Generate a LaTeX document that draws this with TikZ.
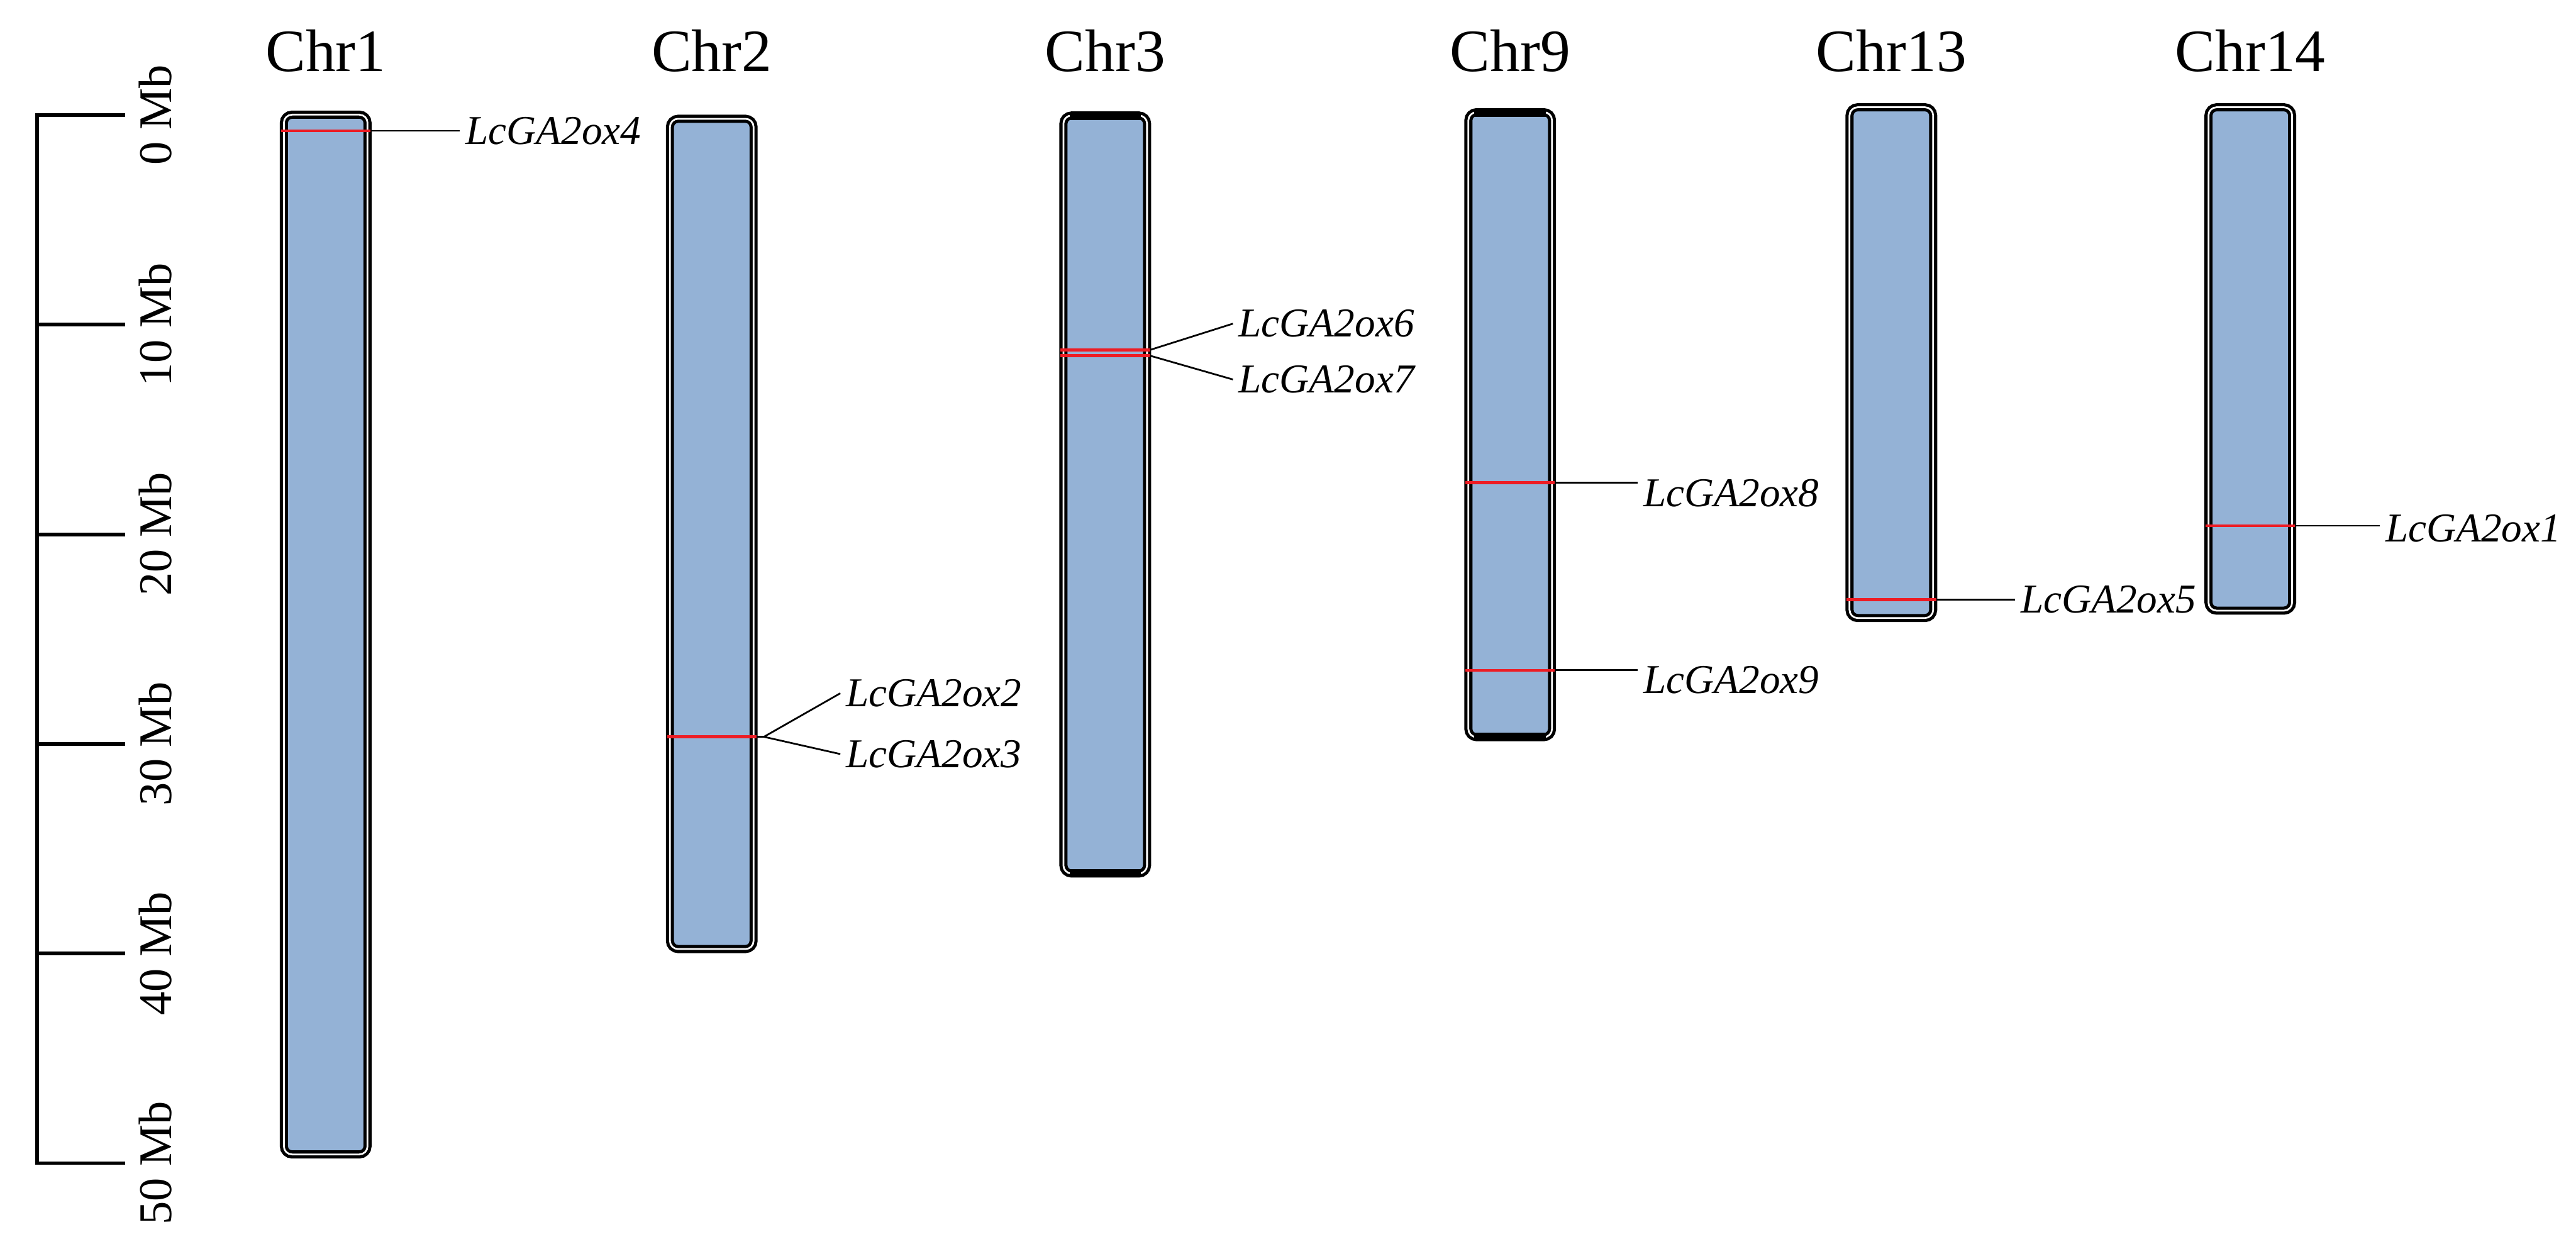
\documentclass[tikz,border=0pt]{standalone}
\usepackage{fontspec}
\setmainfont{Liberation Serif}
\usepackage{xcolor}
\definecolor{chrblue}{rgb}{0.58, 0.70, 0.84}
\definecolor{markred}{rgb}{0.93, 0.11, 0.14}
\usepackage{tikz}

\begin{document}
\begin{tikzpicture}[x=0.01cm, y=-0.01cm,
  chrom/.style={draw=black, line width=0.55pt, double=white, double distance=0.3pt, fill=chrblue, rounded corners=1.4pt},
  chrend/.style={draw=black, line width=1.4pt},
  chrname/.style={anchor=base, inner sep=0pt, font=\fontsize{10.4}{12}\selectfont},
  gene/.style={anchor=west, inner sep=0pt, inner xsep=0.8pt, font=\fontsize{7.1}{8}\selectfont\itshape},
  genemark/.style={draw=markred, line width=0.5pt},
  genelink/.style={draw=black, line width=0.3pt},
  ruler/.style={draw=black, line width=0.65pt},
  mblabel/.style={rotate=90, anchor=north, inner sep=0pt, font=\fontsize{8.1}{9}\selectfont}]

  \useasboundingbox (0,0) rectangle (1568,763);

  % Scale bar
  \draw[ruler] (76,70) -- (22.7,70) -- (22.7,708) -- (76,708);
  \foreach \i in {1,...,4}
    \draw[ruler] (22.7,70+127.6*\i) -- (76,70+127.6*\i);
  \foreach \i in {0,...,5}{
    \pgfmathtruncatemacro{\mb}{10*\i}
    \node[mblabel] (mb\i) at (84,70+127.6*\i) {\mb\ Mb};
  }

  % Chromosomes
  \foreach \n/\x/\ya/\yb in {1/170.5/67.5/705, 2/405.5/70/580, 3/645/68/534,
      9/891.5/66/451, 13/1123.5/63/378.5, 14/1342/63/374}{
    \draw[chrom] (\x+2.3,\ya+2.3) rectangle (\x+53.2,\yb-2.3);
    \node[chrname] (chr\n) at (\x+27.75,43.5) {Chr\n};
  }
  % heavy ends on Chr3 and Chr9
  \foreach \x/\ya/\yb in {645/68/534, 891.5/66/451}{
    \draw[chrend] (\x+6,\ya+2.6) -- (\x+49.5,\ya+2.6);
    \draw[chrend] (\x+6,\yb-2.6) -- (\x+49.5,\yb-2.6);
  }

  % Chr1
  \draw[genemark] (171,79.6) -- (225.5,79.6) coordinate (m4);
  \node[gene] (ox4) at (280,79.7) {LcGA2ox4};
  \draw[genelink] (m4) -- (m4 -| ox4.west);

  % Chr2
  \draw[genemark] (406,448.5) -- (460.5,448.5) coordinate (m23);
  \coordinate (f23) at (465,448.5);
  \node[gene] (ox2) at (511.5,422) {LcGA2ox2};
  \node[gene] (ox3) at (511.5,459) {LcGA2ox3};
  \draw[genelink] (m23) -- (f23) -- (ox2.west);
  \draw[genelink] (f23) -- (ox3.west);

  % Chr3
  \draw[genemark] (645.5,213) -- (700,213) coordinate (m6);
  \draw[genemark] (645.5,216.5) -- (700,216.5) coordinate (m7);
  \node[gene] (ox6) at (750.5,197) {LcGA2ox6};
  \node[gene] (ox7) at (750.5,231) {LcGA2ox7};
  \draw[genelink] (m6) -- (ox6.west);
  \draw[genelink] (m7) -- (ox7.west);

  % Chr9
  \draw[genemark] (892,293.7) -- (946.5,293.7) coordinate (m8);
  \draw[genemark] (892,408) -- (946.5,408) coordinate (m9);
  \node[gene] (ox8) at (997,300.3) {LcGA2ox8};
  \node[gene] (ox9) at (997,414) {LcGA2ox9};
  \draw[genelink] (m8) -- (m8 -| ox8.west);
  \draw[genelink] (m9) -- (m9 -| ox9.west);

  % Chr13
  \draw[genemark] (1124,365) -- (1178.5,365) coordinate (m5);
  \node[gene] (ox5) at (1226.5,365) {LcGA2ox5};
  \draw[genelink] (m5) -- (ox5.west);

  % Chr14
  \draw[genemark] (1342.5,320) -- (1397,320) coordinate (m1);
  \node[gene] (ox1) at (1448.5,321.5) {LcGA2ox1};
  \draw[genelink] (m1) -- (m1 -| ox1.west);
\end{tikzpicture}
\end{document}
